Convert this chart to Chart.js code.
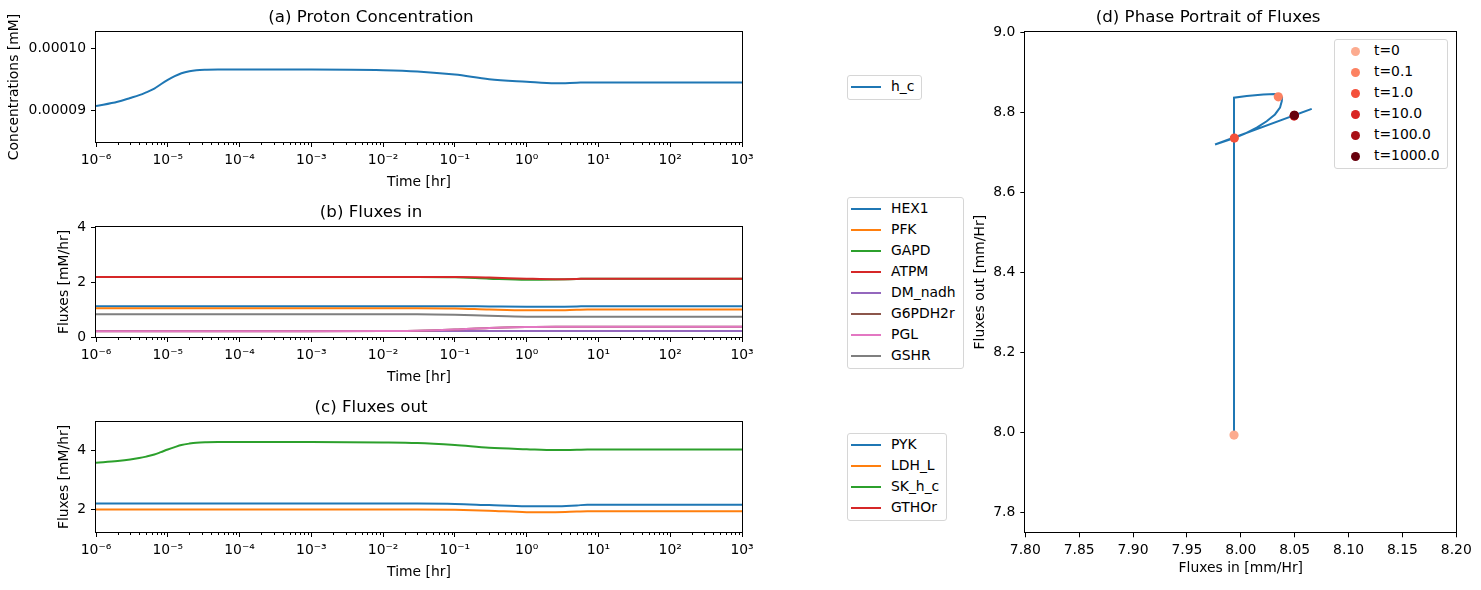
<!DOCTYPE html>
<html>
<head>
<meta charset="utf-8">
<script src="https://cdn.jsdelivr.net/npm/chart.js@4.4.0/dist/chart.umd.min.js"></script>
<style>
  body { margin: 0; background: #fff; width: 1481px; height: 590px; position: relative; overflow: hidden;
         font-family: "DejaVu Sans", sans-serif; }
  canvas { position: absolute; }
  .legend { position: absolute; border: 1px solid #d6d6d6; border-radius: 3px; padding: 0 7px 2px 3px;
            background: #fff; font-size: 13.9px; color: #000; }
  .legend div { height: 21px; line-height: 21px; white-space: nowrap; }
  .legend .line { display: inline-block; width: 30px; height: 2px; vertical-align: middle; margin-right: 10px; }
  .legend .dot { display: inline-block; width: 9px; height: 9px; border-radius: 50%; vertical-align: middle;
                 margin-left: 13px; margin-right: 14px; }
</style>
</head>
<body>
<canvas id="chartA" width="760" height="195" style="left:0;top:0"></canvas>
<canvas id="chartB" width="760" height="195" style="left:0;top:195px"></canvas>
<canvas id="chartC" width="760" height="195" style="left:0;top:390px"></canvas>
<canvas id="chartD" width="521" height="590" style="left:960px;top:0"></canvas>
<div class="legend" id="legA" style="left:847px;top:75px"></div>
<div class="legend" id="legB" style="left:847px;top:197px"></div>
<div class="legend" id="legC" style="left:847px;top:433px"></div>
<div class="legend" id="legD" style="left:1334px;top:39px"></div>
<script>
// time axis (hours) and tick labels
const timeHr = [1e-6, 2e-6, 3e-6, 4e-6, 5e-6, 6.5e-6, 8e-6, 1e-5, 1.25e-5, 1.55e-5, 2e-5, 2.5e-5, 3.5e-5, 5e-5,
                1e-4, 1e-3, 1e-2, 3e-2, 1e-1, 3e-1, 1, 2.5, 5, 7, 10, 100, 1000];
const timeTicks = [1e-6, 1e-5, 1e-4, 1e-3, 1e-2, 1e-1, 1, 10, 100, 1000];
const timeTickLabels = ['10⁻⁶', '10⁻⁵', '10⁻⁴', '10⁻³', '10⁻²', '10⁻¹', '10⁰', '10¹', '10²', '10³'];

// (a) proton concentration
const hC = [9.07e-5, 9.14e-5, 9.20e-5, 9.245e-5, 9.29e-5, 9.35e-5, 9.42e-5, 9.49e-5, 9.55e-5, 9.597e-5, 9.63e-5,
            9.645e-5, 9.652e-5, 9.655e-5, 9.655e-5, 9.655e-5, 9.645e-5, 9.625e-5, 9.575e-5, 9.50e-5, 9.46e-5,
            9.435e-5, 9.445e-5, 9.45e-5, 9.45e-5, 9.45e-5, 9.45e-5];
const concTicks = [0.00009, 0.0001];

// (b) fluxes in
const fluxInNames = ['HEX1', 'PFK', 'GAPD', 'ATPM', 'DM_nadh', 'G6PDH2r', 'PGL', 'GSHR'];
const hex1 = [1.12, 1.12, 1.12, 1.12, 1.12, 1.12, 1.12, 1.12, 1.12, 1.12, 1.12, 1.12, 1.12, 1.12,
              1.12, 1.12, 1.12, 1.12, 1.12, 1.11, 1.10, 1.10, 1.11, 1.12, 1.12, 1.12, 1.12];
const pfk = [1.05, 1.05, 1.05, 1.05, 1.05, 1.05, 1.05, 1.05, 1.05, 1.05, 1.05, 1.05, 1.05, 1.05,
             1.05, 1.05, 1.05, 1.05, 1.04, 1.00, 0.97, 0.97, 0.99, 1.00, 1.00, 1.00, 1.00];
const gapd = [2.18, 2.18, 2.18, 2.18, 2.18, 2.18, 2.18, 2.18, 2.18, 2.18, 2.18, 2.18, 2.18, 2.18,
              2.18, 2.18, 2.18, 2.18, 2.17, 2.12, 2.08, 2.09, 2.11, 2.12, 2.12, 2.12, 2.12];
const atpm = [2.18, 2.18, 2.18, 2.18, 2.18, 2.18, 2.18, 2.18, 2.18, 2.18, 2.18, 2.18, 2.18, 2.18,
              2.18, 2.18, 2.18, 2.18, 2.18, 2.16, 2.12, 2.10, 2.11, 2.12, 2.12, 2.12, 2.12];
const dmNadh = [0.22, 0.22, 0.22, 0.22, 0.22, 0.22, 0.22, 0.22, 0.22, 0.22, 0.22, 0.22, 0.22, 0.22,
                0.22, 0.22, 0.22, 0.22, 0.22, 0.22, 0.22, 0.22, 0.22, 0.22, 0.22, 0.22, 0.22];
const g6pdh2r = [0.21, 0.21, 0.21, 0.21, 0.21, 0.21, 0.21, 0.21, 0.21, 0.21, 0.21, 0.21, 0.21, 0.21,
                 0.21, 0.21, 0.22, 0.23, 0.27, 0.33, 0.36, 0.37, 0.37, 0.37, 0.37, 0.37, 0.37];
const pgl = [0.21, 0.21, 0.21, 0.21, 0.21, 0.21, 0.21, 0.21, 0.21, 0.21, 0.21, 0.21, 0.21, 0.21,
             0.21, 0.21, 0.22, 0.23, 0.27, 0.33, 0.36, 0.37, 0.37, 0.37, 0.37, 0.37, 0.37];
const gshr = [0.83, 0.83, 0.83, 0.83, 0.83, 0.83, 0.83, 0.83, 0.83, 0.83, 0.83, 0.83, 0.83, 0.83,
              0.83, 0.83, 0.83, 0.83, 0.81, 0.77, 0.74, 0.74, 0.74, 0.74, 0.74, 0.74, 0.74];
const fluxInTicks = [0, 2, 4];

// (c) fluxes out
const fluxOutNames = ['PYK', 'LDH_L', 'SK_h_c', 'GTHOr'];
const pyk = [2.21, 2.21, 2.21, 2.21, 2.21, 2.21, 2.21, 2.21, 2.21, 2.21, 2.21, 2.21, 2.21, 2.21,
             2.21, 2.21, 2.21, 2.21, 2.20, 2.16, 2.12, 2.12, 2.15, 2.17, 2.17, 2.17, 2.17];
const ldhL = [2.01, 2.01, 2.01, 2.01, 2.01, 2.01, 2.01, 2.01, 2.01, 2.01, 2.01, 2.01, 2.01, 2.01,
              2.01, 2.01, 2.01, 2.01, 2.00, 1.97, 1.92, 1.92, 1.94, 1.95, 1.95, 1.95, 1.95];
const skHc = [3.59, 3.65, 3.70, 3.75, 3.80, 3.87, 3.95, 4.04, 4.12, 4.19, 4.24, 4.27, 4.285, 4.29,
              4.29, 4.29, 4.28, 4.26, 4.19, 4.10, 4.05, 4.02, 4.03, 4.04, 4.04, 4.04, 4.04];
const gthor = [0.42, 0.42, 0.42, 0.42, 0.42, 0.42, 0.42, 0.42, 0.42, 0.42, 0.42, 0.42, 0.42, 0.42,
               0.42, 0.42, 0.42, 0.42, 0.41, 0.39, 0.37, 0.37, 0.37, 0.37, 0.37, 0.37, 0.37];
const fluxOutTicks = [2, 4];

// (d) phase portrait
const phaseIn = [7.9937, 7.9937, 8.0055, 8.0209, 8.0317, 8.0364, 8.0383, 8.0380, 8.0364, 8.0317, 8.0240, 8.0148, 8.0039, 7.9940, 7.9761, 8.0658, 8.0497];
const phaseOut = [7.993, 8.836, 8.840, 8.844, 8.845, 8.842, 8.836, 8.827, 8.811, 8.794, 8.777, 8.761, 8.746, 8.735, 8.719, 8.808, 8.792];
const markerLabels = ['t=0', 't=0.1', 't=1.0', 't=10.0', 't=100.0', 't=1000.0'];
const markerIn = [7.9937, 8.0348, 7.9940, 8.0495, 8.0497, 8.0497];
const markerOut = [7.993, 8.838, 8.735, 8.790, 8.792, 8.792];
const phaseXTicks = [7.80, 7.85, 7.90, 7.95, 8.00, 8.05, 8.10, 8.15, 8.20];
const phaseYTicks = [7.8, 8.0, 8.2, 8.4, 8.6, 8.8, 9.0];

const tab10 = ['#1f77b4', '#ff7f0e', '#2ca02c', '#d62728', '#9467bd', '#8c564b', '#e377c2', '#7f7f7f'];
const reds = ['#fcab8f', '#fc8262', '#f4503a', '#d92523', '#a91016', '#67000d'];

Chart.defaults.color = '#000';
Chart.defaults.font.family = '"DejaVu Sans", sans-serif';
Chart.defaults.font.size = 13.9;
Chart.defaults.animation = false;

const tickFont = { size: 13.9 };
const titleFont = { size: 16.67, weight: 'normal' };

// black frame around the plot area + minor ticks on log axes
const frame = {
  id: 'frame',
  afterDatasetsDraw(chart) {
    const { ctx, chartArea: a } = chart;
    ctx.save();
    ctx.strokeStyle = '#000';
    ctx.lineWidth = 1;
    ctx.strokeRect(Math.round(a.left) - 0.5, Math.round(a.top) - 0.5,
                   Math.round(a.right - a.left) + 1, Math.round(a.bottom - a.top) + 1);
    const xs = chart.scales.x;
    if (xs.type === 'logarithmic') {
      ctx.beginPath();
      for (let k = -6; k < 3; k++) {
        for (let j = 2; j <= 9; j++) {
          const px = Math.round(xs.getPixelForValue(j * Math.pow(10, k))) + 0.5;
          ctx.moveTo(px, Math.round(a.bottom));
          ctx.lineTo(px, Math.round(a.bottom) + 3);
        }
      }
      ctx.stroke();
    }
    ctx.restore();
  }
};

function makeSeries(names, arrays) {
  return names.map((name, i) => ({
    label: name,
    data: timeHr.map((t, k) => ({ x: t, y: arrays[i][k] })),
    borderColor: tab10[i],
    backgroundColor: tab10[i],
    borderWidth: 2,
    pointRadius: 0,
    cubicInterpolationMode: 'monotone',
    order: names.length - i
  }));
}

function timeOptions(title, yLabel, yLabelPad, yMin, yMax, yTicks, yFmt) {
  return {
    responsive: false,
    layout: { padding: { left: 0, right: 18, top: 0, bottom: 0 } },
    plugins: {
      legend: { display: false },
      tooltip: { enabled: false },
      title: { display: true, text: title, font: titleFont, padding: { top: 8, bottom: 4 }, color: '#000' }
    },
    scales: {
      x: {
        type: 'logarithmic', min: 1e-6, max: 1e3,
        afterBuildTicks: s => { s.ticks = timeTicks.map(v => ({ value: v })); },
        afterFit: s => { s.height = 53; s.paddingLeft = 0; s.paddingRight = 0; },
        ticks: { autoSkip: false, maxRotation: 0, padding: 5, font: tickFont,
                 callback: (v, i) => timeTickLabels[i] },
        grid: { drawOnChartArea: false, drawTicks: true, tickLength: 5, color: '#000' },
        border: { display: false },
        title: { display: true, text: 'Time [hr]', font: tickFont, padding: { top: 0, bottom: 4.6 } }
      },
      y: {
        min: yMin, max: yMax,
        afterBuildTicks: s => { s.ticks = yTicks.map(v => ({ value: v })); },
        afterFit: s => { s.width = 96; s.paddingTop = 0; s.paddingBottom = 0; },
        ticks: { padding: 5, font: tickFont, callback: yFmt },
        grid: { drawOnChartArea: false, drawTicks: true, tickLength: 5, color: '#000' },
        border: { display: false },
        title: { display: true, text: yLabel, font: tickFont, padding: { top: yLabelPad, bottom: 0 } }
      }
    }
  };
}

const chartA = new Chart(document.getElementById('chartA'), {
  type: 'line',
  data: { datasets: makeSeries(['h_c'], [hC]) },
  options: timeOptions('(a) Proton Concentration', 'Concentrations [mM]', 6.1,
                       8.494e-5, 1.0258e-4, concTicks, v => v.toFixed(5)),
  plugins: [frame]
});

const chartB = new Chart(document.getElementById('chartB'), {
  type: 'line',
  data: { datasets: makeSeries(fluxInNames, [hex1, pfk, gapd, atpm, dmNadh, g6pdh2r, pgl, gshr]) },
  options: timeOptions('(b) Fluxes in', 'Fluxes [mM/hr]', 55.6, 0, 4, fluxInTicks, v => String(v)),
  plugins: [frame]
});

const chartC = new Chart(document.getElementById('chartC'), {
  type: 'line',
  data: { datasets: makeSeries(fluxOutNames, [pyk, ldhL, skHc, gthor]) },
  options: timeOptions('(c) Fluxes out', 'Fluxes [mM/hr]', 55.6, 1.25, 4.97, fluxOutTicks, v => String(v)),
  plugins: [frame]
});

const phaseDatasets = [{
  data: phaseIn.map((x, i) => ({ x: x, y: phaseOut[i] })),
  showLine: true,
  borderColor: tab10[0],
  borderWidth: 2,
  pointRadius: 0,
  tension: 0,
  order: 10
}].concat(markerLabels.map((lab, i) => ({
  label: lab,
  data: [{ x: markerIn[i], y: markerOut[i] }],
  backgroundColor: reds[i],
  borderColor: reds[i],
  borderWidth: 0,
  pointRadius: 4.6,
  order: markerLabels.length - i
})));

const chartD = new Chart(document.getElementById('chartD'), {
  type: 'scatter',
  data: { datasets: phaseDatasets },
  options: {
    responsive: false,
    layout: { padding: { left: 0, right: 24.7, top: 0, bottom: 0 } },
    plugins: {
      legend: { display: false },
      tooltip: { enabled: false },
      title: { display: true, text: '(d) Phase Portrait of Fluxes', font: titleFont, padding: { top: 8, bottom: 4 }, color: '#000' }
    },
    scales: {
      x: {
        type: 'linear', min: 7.8, max: 8.2,
        afterBuildTicks: s => { s.ticks = phaseXTicks.map(v => ({ value: v })); },
        afterFit: s => { s.height = 57.7; s.paddingLeft = 0; s.paddingRight = 0; },
        ticks: { autoSkip: false, maxRotation: 0, padding: 5, font: tickFont, callback: v => v.toFixed(2) },
        grid: { drawOnChartArea: false, drawTicks: true, tickLength: 5, color: '#000' },
        border: { display: false },
        title: { display: true, text: 'Fluxes in [mm/Hr]', font: tickFont, padding: { top: 0, bottom: 13.3 } }
      },
      y: {
        type: 'linear', min: 7.75, max: 9.0,
        afterBuildTicks: s => { s.ticks = phaseYTicks.map(v => ({ value: v })); },
        afterFit: s => { s.width = 65.3; s.paddingTop = 0; s.paddingBottom = 0; },
        ticks: { padding: 5, font: tickFont, callback: v => v.toFixed(1) },
        grid: { drawOnChartArea: false, drawTicks: true, tickLength: 5, color: '#000' },
        border: { display: false },
        title: { display: true, text: 'Fluxes out [mm/Hr]', font: tickFont, padding: { top: 11.6, bottom: 0 } }
      }
    }
  },
  plugins: [frame]
});

// html legends built from the chart datasets
function htmlLegend(chart, id, dots) {
  const box = document.getElementById(id);
  chart.data.datasets.forEach(ds => {
    if (!ds.label) return;
    const row = document.createElement('div');
    const sw = document.createElement('span');
    sw.className = dots ? 'dot' : 'line';
    sw.style.background = dots ? ds.backgroundColor : ds.borderColor;
    row.appendChild(sw);
    row.appendChild(document.createTextNode(ds.label));
    box.appendChild(row);
  });
}
htmlLegend(chartA, 'legA', false);
htmlLegend(chartB, 'legB', false);
htmlLegend(chartC, 'legC', false);
htmlLegend(chartD, 'legD', true);
</script>
</body>
</html>
